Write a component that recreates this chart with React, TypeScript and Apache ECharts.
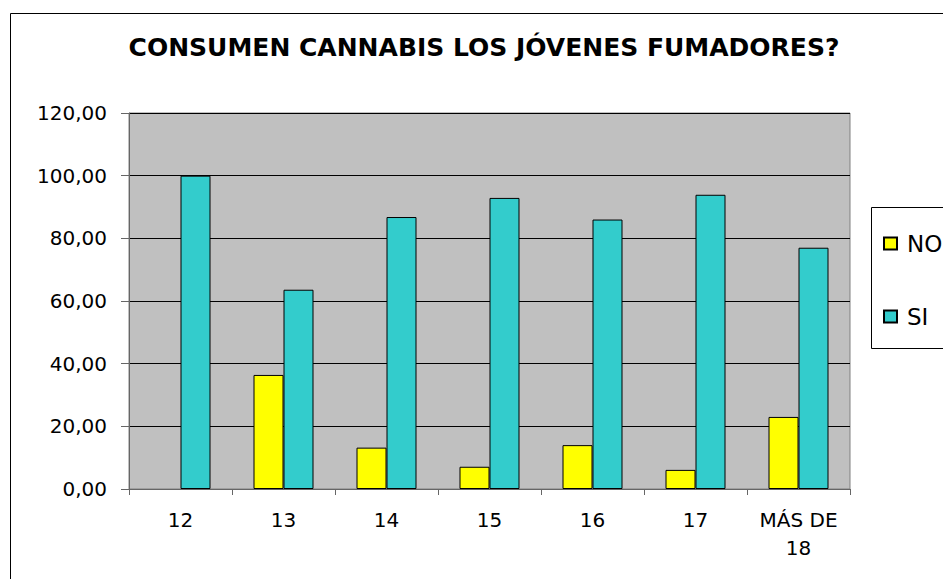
import React, { useEffect, useRef } from "react";
import * as echarts from "echarts";

const TITLE = "CONSUMEN CANNABIS LOS JÓVENES FUMADORES?";
const categories = ["12", "13", "14", "15", "16", "17", "MÁS DE\n18"];
const seriesNames = ["NO", "SI"];
const noValues = [0, 36.4, 13.2, 7.1, 14.0, 6.1, 23.0];
const siValues = [100, 63.6, 86.8, 92.9, 86.0, 93.9, 77.0];
const yMin = 0;
const yMax = 120;
const yInterval = 20;

const FONT = "'DejaVu Sans', sans-serif";

const toBarData = (values: number[]) =>
  values.map((v) =>
    v === 0 ? { value: v, itemStyle: { borderWidth: 0 } } : { value: v }
  );

export default function App() {
  const ref = useRef<HTMLDivElement>(null);
  useEffect(() => {
    if (!ref.current) return;
    const chart = echarts.init(ref.current, null, { renderer: "svg" });
    chart.setOption({
      animation: false,
      backgroundColor: "#ffffff",
      graphic: [
        {
          type: "rect",
          shape: { x: 10.5, y: 13.5, width: 1200, height: 1200 },
          style: { fill: "none", stroke: "#000", lineWidth: 1 },
          z: 0,
        },
        {
          type: "text",
          x: 484,
          y: 47,
          style: {
            text: TITLE,
            font: `bold 25px ${FONT}`,
            fill: "#000",
            textAlign: "center",
            textVerticalAlign: "middle",
          },
        },
        {
          type: "rect",
          shape: { x: 871.5, y: 207.5, width: 200, height: 141 },
          style: { fill: "#fff", stroke: "#000", lineWidth: 1 },
          z: 1,
        },
      ],
      legend: {
        orient: "vertical",
        left: 883,
        top: 232,
        itemWidth: 13,
        itemHeight: 12,
        itemGap: 50,
        icon: "rect",
        padding: 0,
        data: seriesNames,
        z: 5,
        textStyle: {
          fontFamily: FONT,
          fontSize: 23,
          lineHeight: 20,
          color: "#000",
          padding: [0, 0, 0, 5],
        },
      },
      grid: {
        left: 129,
        right: 93,
        top: 113,
        bottom: 90,
        show: true,
        backgroundColor: "#C0C0C0",
        borderColor: "#808080",
        borderWidth: 1,
      },
      xAxis: {
        type: "category",
        data: categories,
        boundaryGap: true,
        axisLine: { show: true, lineStyle: { color: "#666", width: 1 } },
        axisTick: { show: true, length: 6, lineStyle: { color: "#666" } },
        axisLabel: {
          fontFamily: FONT,
          fontSize: 20,
          lineHeight: 28,
          color: "#000",
          margin: 17,
          interval: 0,
        },
      },
      yAxis: {
        type: "value",
        min: yMin,
        max: yMax,
        interval: yInterval,
        axisLine: { show: true, lineStyle: { color: "#666", width: 1 } },
        axisTick: { show: true, length: 8, lineStyle: { color: "#666" } },
        splitLine: { show: true, lineStyle: { color: "#000", width: 1 } },
        axisLabel: {
          fontFamily: FONT,
          fontSize: 20,
          color: "#000",
          margin: 22,
          formatter: (v: number) => v.toFixed(2).replace(".", ","),
        },
      },
      series: [
        {
          name: seriesNames[0],
          type: "bar",
          data: toBarData(noValues),
          barWidth: 30,
          barGap: "0%",
          itemStyle: { color: "#FFFF00", borderColor: "#000", borderWidth: 1 },
        },
        {
          name: seriesNames[1],
          type: "bar",
          data: toBarData(siValues),
          barWidth: 30,
          barGap: "0%",
          itemStyle: { color: "#33CCCC", borderColor: "#000", borderWidth: 1 },
        },
      ],
    });
    return () => chart.dispose();
  }, []);
  return (
    <div
      ref={ref}
      style={{ position: "fixed", left: 0, top: 0, width: 943, height: 579 }}
    />
  );
}
